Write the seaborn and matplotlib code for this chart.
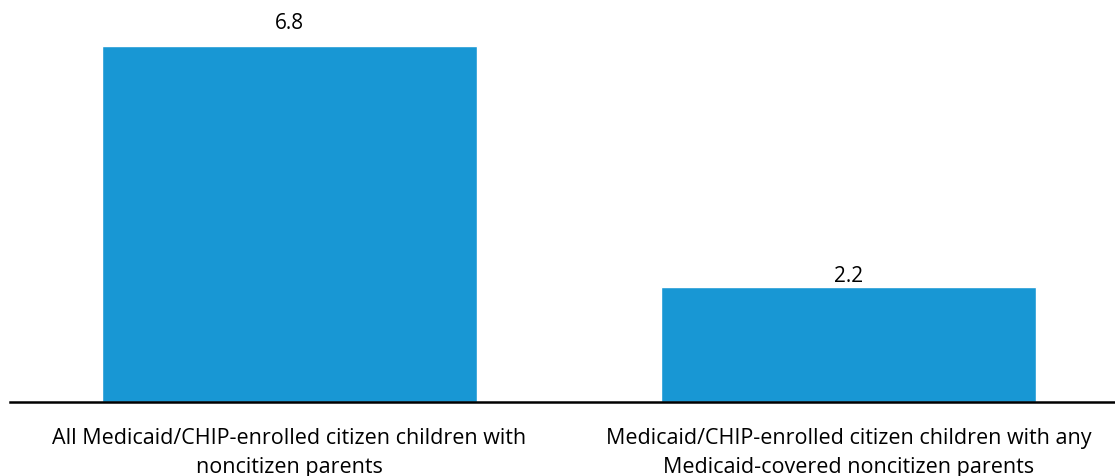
import matplotlib
matplotlib.use("Agg")
import matplotlib.pyplot as plt
import seaborn as sns
import pandas as pd

categories = [
    "All Medicaid/CHIP-enrolled citizen children with\nnoncitizen parents",
    "Medicaid/CHIP-enrolled citizen children with any\nMedicaid-covered noncitizen parents",
]
values = [6.8, 2.2]
value_labels = ["6.8", "2.2"]

sns.set_theme(style="white")
plt.rcParams["font.family"] = ["Open Sans", "DejaVu Sans"]

df = pd.DataFrame({"group": categories, "value": values})

fig = plt.figure(figsize=(11.15, 4.76), dpi=100)
ax = fig.add_axes([10 / 1115, 74 / 476, 1105 / 1115, 402 / 476])

sns.barplot(data=df, x="group", y="value", color="#1897d4", saturation=1,
            width=0.67, ax=ax)

ax.set_xlim(-0.5, 1.477)
ax.set_ylim(0, 7.68)

# value labels above the bars
label_offsets = [16.0, 7.4]
for i, (v, txt) in enumerate(zip(values, value_labels)):
    ax.annotate(txt, xy=(i, v), xytext=(0, label_offsets[i]),
                textcoords="offset points", ha="center", va="center",
                fontsize=15, color="#000000")

for s in ["top", "right", "left"]:
    ax.spines[s].set_visible(False)
ax.spines["bottom"].set_color("#000000")
ax.spines["bottom"].set_linewidth(1.8)

ax.set_yticks([])
ax.set_xlabel("")
ax.set_ylabel("")
ax.tick_params(axis="x", length=0, pad=19, labelsize=15.5, colors="#000000")
for lbl in ax.get_xticklabels():
    lbl.set_linespacing(1.45)

fig.savefig("out.png", dpi=100)
